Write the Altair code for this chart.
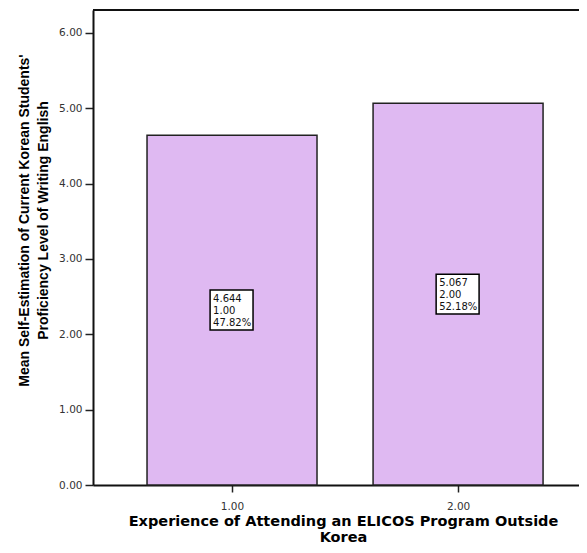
import altair as alt
import pandas as pd

categories = [1.0, 2.0]
means = [4.644, 5.067]
percents = ["47.82%", "52.18%"]
cat_labels = ["1.00", "2.00"]

df = pd.DataFrame({"cat": categories, "mean": means, "pct": percents, "lab": cat_labels})
df["x0"] = df["cat"] - 0.376
df["x1"] = df["cat"] + 0.376
df["mid"] = df["mean"] / 2
df["by0"] = df["mid"] - 0.265
df["by1"] = df["mid"] + 0.265
df["bx0"] = df["cat"] - 0.097
df["bx1"] = df["cat"] + 0.093
df["txt"] = df.apply(lambda r: f"{r['mean']:.3f}\n{r['lab']}\n{r['pct']}", axis=1)

W, H = 486, 475
xs = alt.Scale(domain=[0.385, 2.535], nice=False, zero=False)
ys = alt.Scale(domain=[0, 6.305], nice=False)

tfont = "Liberation Sans"
lfont = "DejaVu Sans"

bars = alt.Chart(df).mark_rect(color="#dfb9f2", stroke="#222222", strokeWidth=1.5).encode(
    x=alt.X("x0:Q", scale=xs, axis=alt.Axis(
        values=categories, format=".2f", title=["Experience of Attending an ELICOS Program Outside", "Korea"],
        titleFont=lfont, titleFontSize=14.5, titleFontWeight="bold", titleColor="black",
        titleLineHeight=16, titleX=250, titleY=40, titleBaseline="alphabetic",
        labelFont=lfont, labelFontSize=10.5, labelColor="#333333", labelPadding=9,
        tickSize=7, tickColor="#222222", tickWidth=1.5, domainColor="#111111", domainWidth=2, grid=False)),
    x2="x1:Q",
    y=alt.Y("mean:Q", scale=ys, axis=alt.Axis(
        values=[0, 1, 2, 3, 4, 5, 6], format=".2f",
        title=["Mean Self-Estimation of Current Korean Students'", "Proficiency Level of Writing English"],
        titleFont=tfont, titleFontSize=14, titleFontWeight="bold", titleColor="black", titlePadding=8,
        titleLineHeight=19, titleY=210,
        labelFont=lfont, labelFontSize=10.5, labelColor="#333333", labelPadding=3,
        tickSize=8, tickColor="#222222", tickWidth=1.5, domainColor="#111111", domainWidth=2, grid=False)),
    y2=alt.datum(0),
)

boxes = alt.Chart(df).mark_rect(fill="white", stroke="black", strokeWidth=1.5).encode(
    x=alt.X("bx0:Q", scale=xs), x2="bx1:Q",
    y=alt.Y("by0:Q", scale=ys), y2="by1:Q",
)

texts = alt.Chart(df).mark_text(align="left", baseline="top", font=lfont, fontSize=10,
                                lineBreak="\n", lineHeight=12, color="#111111", dx=3, dy=4).encode(
    x=alt.X("bx0:Q", scale=xs), y=alt.Y("by1:Q", scale=ys), text="txt:N",
)

top = alt.Chart(df).mark_rule(color="#111111", strokeWidth=2).encode(
    x=alt.value(0), x2=alt.value(W), y=alt.value(0)
)

chart = alt.layer(bars, boxes, texts, top).properties(
    width=W, height=H,
    autosize=alt.AutoSizeParams(type="none"),
    padding={"left": 85, "top": 2, "right": 0, "bottom": 60},
).configure_view(stroke=None).configure(background="white")

chart.save("out.html", embed_options={"renderer": "svg", "actions": False})
